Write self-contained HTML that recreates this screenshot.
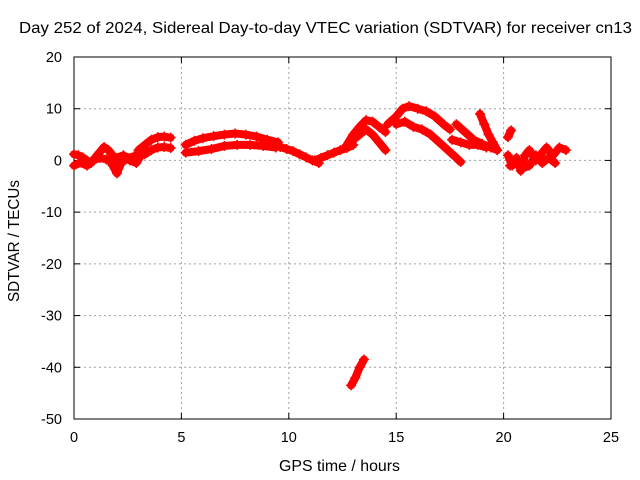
<!DOCTYPE html>
<html><head><meta charset="utf-8"><style>
body{margin:0;background:#fff;}
svg{display:block;font-family:"Liberation Sans",sans-serif;}
</style></head><body>
<svg id="chart" width="640" height="480"></svg>
<script>
const xTicks=[0,5,10,15,20,25];
const yTicks=[20,10,0,-10,-20,-30,-40,-50];
const trackA_t=[0,0.2,0.4,0.6,0.8,1.0,1.2,1.4,1.6,1.8];
const trackA_v=[1.2,1,0.6,0,-0.5,0.6,1.6,2.6,2,1];
const trackA2_t=[0,0.3,0.6,0.9,1.2,1.5,1.8];
const trackA2_v=[-1,-0.4,-1,0,0.5,0.2,-0.5];
const trackB_t=[1.8,2.0,2.2,2.5,2.8,3.1,3.3];
const trackB_v=[-1,-2.5,-0.5,0.5,0.8,1.2,2];
const trackB2_t=[2.0,2.3,2.6,2.9,3.2];
const trackB2_v=[0.5,1,0,-0.5,1.5];
const trackC_t=[3.0,3.3,3.6,3.9,4.2,4.5];
const trackC_v=[2,3,4,4.5,4.6,4.4];
const trackC2_t=[3.3,3.6,3.9,4.2,4.5];
const trackC2_v=[1.2,2,2.5,2.6,2.4];
const trackD_t=[5.2,5.6,6.0,6.5,7.0,7.5,8.0,8.5,9.0,9.5];
const trackD_v=[3,3.8,4.3,4.7,5,5.2,5,4.6,4,3.5];
const trackD2_t=[5.2,5.8,6.4,7.0,7.6,8.2,8.8,9.4];
const trackD2_v=[1.5,1.8,2.2,2.8,3,3,2.8,2.5];
const trackE_t=[9.3,9.6,9.9,10.2,10.5,10.8,11.1,11.4];
const trackE_v=[3,2.6,2.2,1.8,1.2,0.6,0,-0.5];
const trackF_t=[11.2,11.5,11.8,12.1,12.4,12.7,13.0];
const trackF_v=[0,0.5,1,1.5,2,2.4,3];
const trackG_t=[12.7,13.0,13.3,13.6,13.9,14.2,14.5];
const trackG_v=[3,5,6.5,7.8,7.5,6.5,5.5];
const trackG2_t=[13.0,13.3,13.6,13.9,14.2,14.5];
const trackG2_v=[4,5,6,5,3.5,2];
const trackH_t=[14.6,15.0,15.3,15.6,16.0,16.4,16.8,17.2,17.5];
const trackH_v=[7,8.5,10,10.5,10,9.5,8.5,7,6];
const trackH2_t=[15.0,15.4,15.8,16.2,16.6,17.0,17.4,17.8,18.0];
const trackH2_v=[7,7.5,6.5,6,5,3.5,2,0.5,-0.3];
const trackI_t=[17.8,18.2,18.6,19.0,19.4,19.7];
const trackI_v=[7,5.5,4,3.2,2.5,2];
const trackI2_t=[18.9,19.1,19.3,19.5,19.7];
const trackI2_v=[9,7,5,3.5,2];
const trackI3_t=[17.6,18.0,18.4,18.8,19.2];
const trackI3_v=[4,3.5,3,3,2.5];
const trackJ_t=[20.2,20.4,20.6,20.8,21.0,21.2,21.5,21.8,22.0,22.3,22.6,22.9];
const trackJ_v=[1,-1,0.5,-2,1,2,0,1.5,2.5,1,2.5,2];
const trackJ2_t=[20.3,20.6,20.9,21.2,21.5,21.8,22.1,22.4];
const trackJ2_v=[-1,0,-1.5,-1,1,-0.5,0.5,-0.5];
const trackJ3_t=[20.2,20.35];
const trackJ3_v=[4.5,5.8];
const trackK_t=[12.9,13.1,13.3,13.5];
const trackK_v=[-43.5,-42,-40,-38.5];
const tracksT=[trackA_t,trackA2_t,trackB_t,trackB2_t,trackC_t,trackC2_t,trackD_t,trackD2_t,trackE_t,trackF_t,trackG_t,trackG2_t,trackH_t,trackH2_t,trackI_t,trackI2_t,trackI3_t,trackJ_t,trackJ2_t,trackJ3_t,trackK_t];
const tracksV=[trackA_v,trackA2_v,trackB_v,trackB2_v,trackC_v,trackC2_v,trackD_v,trackD2_v,trackE_v,trackF_v,trackG_v,trackG2_v,trackH_v,trackH2_v,trackI_v,trackI2_v,trackI3_v,trackJ_v,trackJ2_v,trackJ3_v,trackK_v];

const L=74,R=611,T=57,B=419;
const xs=t=>L+(t-0)/25*(R-L);
const ys=v=>T+(20-v)/70*(B-T);
const NS="http://www.w3.org/2000/svg";
const svg=document.getElementById('chart');
function mk(tag,attrs,parent){const e=document.createElementNS(NS,tag);for(const k in attrs)e.setAttribute(k,attrs[k]);(parent||svg).appendChild(e);return e;}

const title=mk('text',{x:19,y:33,'font-size':16,textLength:613,lengthAdjust:'spacingAndGlyphs',fill:'#000'});
title.textContent='Day 252 of 2024, Sidereal Day-to-day VTEC variation (SDTVAR) for receiver cn13';



const grid=mk('g',{});


xTicks.forEach(t=>{
  if(t>0&&t<25){const l=mk('line',{x1:xs(t),x2:xs(t),y1:T,y2:B,stroke:'#a0a0a0','stroke-dasharray':'2,3'},grid);
  
  }
  mk('line',{x1:xs(t),x2:xs(t),y1:B,y2:B-6,stroke:'#000'});
  mk('line',{x1:xs(t),x2:xs(t),y1:T,y2:T+6,stroke:'#000'});
  const lb=mk('text',{x:xs(t),y:B+23,'text-anchor':'middle','font-size':14.5});
  lb.textContent=t;
  
  
});
yTicks.forEach(v=>{
  if(v<20&&v>-50){const l=mk('line',{x1:L,x2:R,y1:ys(v),y2:ys(v),stroke:'#a0a0a0','stroke-dasharray':'2,3'},grid);
  
  }
  mk('line',{x1:L,x2:L+6,y1:ys(v),y2:ys(v),stroke:'#000'});
  mk('line',{x1:R,x2:R-6,y1:ys(v),y2:ys(v),stroke:'#000'});
  const lb=mk('text',{x:L-12,y:ys(v)+5,'text-anchor':'end','font-size':14.5});
  lb.textContent=v;
  
  
});
const frame=mk('rect',{x:L,y:T,width:R-L,height:B-T,fill:'none',stroke:'#000'});



const xl=mk('text',{x:279,y:471,'font-size':16,textLength:121,lengthAdjust:'spacingAndGlyphs'});
xl.textContent='GPS time / hours';


const yl=mk('text',{x:19,y:302,'font-size':16,textLength:122,lengthAdjust:'spacingAndGlyphs',transform:'rotate(-90 19 302)'});
yl.textContent='SDTVAR / TECUs';



const series=mk('g',{});


tracksT.forEach((ts,i)=>{
  const vs=tracksV[i];
  const pts=ts.map((t,j)=>xs(t)+','+ys(vs[j])).join(' ');
  const pl=mk('polyline',{points:pts,fill:'none',stroke:'#f00','stroke-width':8,'stroke-linejoin':'round','stroke-linecap':'round'},series);
  
  
  ts.forEach((t,j)=>{
    const x=xs(t),y=ys(vs[j]);
    const p=mk('path',{d:`M${x-5},${y}H${x+5}M${x},${y-5}V${y+5}`,stroke:'#f00','stroke-width':1.5},series);
    
    
  });
});
</script>
</body></html>
